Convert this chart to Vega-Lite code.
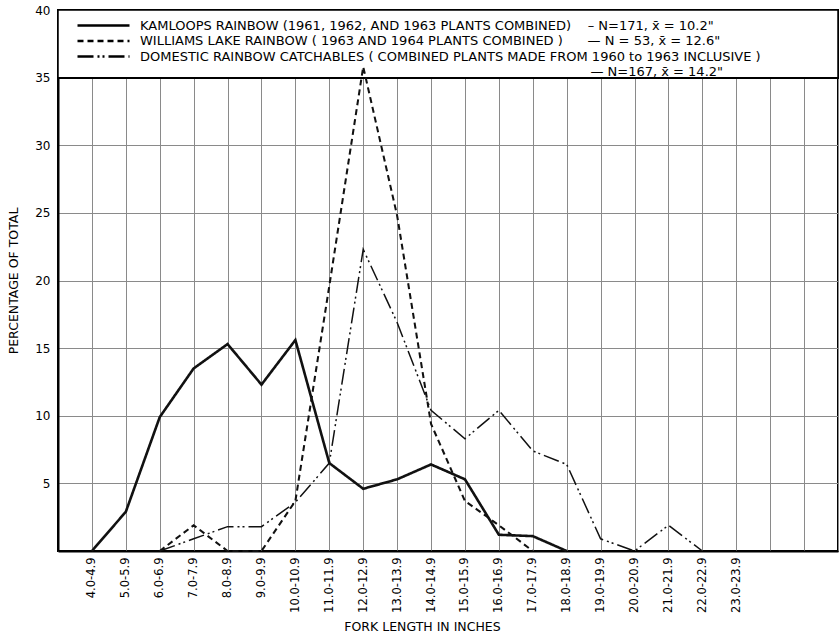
{
  "$schema": "https://vega.github.io/schema/vega-lite/v6.json",
  "width": 780,
  "height": 541,
  "autosize": {"type": "none"},
  "padding": {"left": 58, "top": 10, "right": 2, "bottom": 85},
  "background": "white",
  "config": {
    "view": {"stroke": "black", "strokeWidth": 2},
    "font": "DejaVu Sans",
    "axis": {"labelColor": "black", "titleColor": "black", "titleFontWeight": "normal", "domainColor": "black", "domainWidth": 2, "gridColor": "#8a8a8a", "gridWidth": 1, "ticks": false}
  },
  "data": {
    "values": [
      {"size": "4.0-4.9", "series": "KAMLOOPS", "pct": 0},
      {"size": "5.0-5.9", "series": "KAMLOOPS", "pct": 2.9},
      {"size": "6.0-6.9", "series": "KAMLOOPS", "pct": 9.9},
      {"size": "7.0-7.9", "series": "KAMLOOPS", "pct": 13.5},
      {"size": "8.0-8.9", "series": "KAMLOOPS", "pct": 15.3},
      {"size": "9.0-9.9", "series": "KAMLOOPS", "pct": 12.3},
      {"size": "10.0-10.9", "series": "KAMLOOPS", "pct": 15.6},
      {"size": "11.0-11.9", "series": "KAMLOOPS", "pct": 6.5},
      {"size": "12.0-12.9", "series": "KAMLOOPS", "pct": 4.6},
      {"size": "13.0-13.9", "series": "KAMLOOPS", "pct": 5.3},
      {"size": "14.0-14.9", "series": "KAMLOOPS", "pct": 6.4},
      {"size": "15.0-15.9", "series": "KAMLOOPS", "pct": 5.3},
      {"size": "16.0-16.9", "series": "KAMLOOPS", "pct": 1.2},
      {"size": "17.0-17.9", "series": "KAMLOOPS", "pct": 1.1},
      {"size": "18.0-18.9", "series": "KAMLOOPS", "pct": 0},
      {"size": "6.0-6.9", "series": "WILLIAMS", "pct": 0},
      {"size": "7.0-7.9", "series": "WILLIAMS", "pct": 1.9},
      {"size": "8.0-8.9", "series": "WILLIAMS", "pct": 0},
      {"size": "9.0-9.9", "series": "WILLIAMS", "pct": 0},
      {"size": "10.0-10.9", "series": "WILLIAMS", "pct": 3.7},
      {"size": "11.0-11.9", "series": "WILLIAMS", "pct": 19.6},
      {"size": "12.0-12.9", "series": "WILLIAMS", "pct": 35.8},
      {"size": "13.0-13.9", "series": "WILLIAMS", "pct": 24.8},
      {"size": "14.0-14.9", "series": "WILLIAMS", "pct": 9.4},
      {"size": "15.0-15.9", "series": "WILLIAMS", "pct": 3.7},
      {"size": "16.0-16.9", "series": "WILLIAMS", "pct": 1.9},
      {"size": "17.0-17.9", "series": "WILLIAMS", "pct": 0},
      {"size": "6.0-6.9", "series": "DOMESTIC", "pct": 0},
      {"size": "7.0-7.9", "series": "DOMESTIC", "pct": 0.9},
      {"size": "8.0-8.9", "series": "DOMESTIC", "pct": 1.8},
      {"size": "9.0-9.9", "series": "DOMESTIC", "pct": 1.8},
      {"size": "10.0-10.9", "series": "DOMESTIC", "pct": 3.6},
      {"size": "11.0-11.9", "series": "DOMESTIC", "pct": 6.5},
      {"size": "12.0-12.9", "series": "DOMESTIC", "pct": 22.3},
      {"size": "13.0-13.9", "series": "DOMESTIC", "pct": 16.9},
      {"size": "14.0-14.9", "series": "DOMESTIC", "pct": 10.4},
      {"size": "15.0-15.9", "series": "DOMESTIC", "pct": 8.3},
      {"size": "16.0-16.9", "series": "DOMESTIC", "pct": 10.4},
      {"size": "17.0-17.9", "series": "DOMESTIC", "pct": 7.4},
      {"size": "18.0-18.9", "series": "DOMESTIC", "pct": 6.4},
      {"size": "19.0-19.9", "series": "DOMESTIC", "pct": 0.9},
      {"size": "20.0-20.9", "series": "DOMESTIC", "pct": 0},
      {"size": "21.0-21.9", "series": "DOMESTIC", "pct": 1.9},
      {"size": "22.0-22.9", "series": "DOMESTIC", "pct": 0}
    ]
  },
  "layer": [
    {
      "mark": {"type": "rect", "fill": "white", "stroke": "black", "strokeWidth": 1.5},
      "encoding": {
        "y": {"datum": 35, "type": "quantitative", "title": "PERCENTAGE OF TOTAL"},
        "y2": {"datum": 40}
      }
    },
    {
      "mark": {"type": "line", "color": "#111"},
      "encoding": {
        "x": {
          "field": "size",
          "type": "nominal",
          "sort": null,
          "scale": {"type": "point", "padding": 0, "domain": ["", "4.0-4.9", "5.0-5.9", "6.0-6.9", "7.0-7.9", "8.0-8.9", "9.0-9.9", "10.0-10.9", "11.0-11.9", "12.0-12.9", "13.0-13.9", "14.0-14.9", "15.0-15.9", "16.0-16.9", "17.0-17.9", "18.0-18.9", "19.0-19.9", "20.0-20.9", "21.0-21.9", "22.0-22.9", "23.0-23.9", " ", "  ", "   "]},
          "axis": {"title": "FORK LENGTH IN INCHES", "labelAngle": -90, "labelFontSize": 11.5, "labelPadding": 6, "grid": true, "titleFontSize": 12.5, "titlePadding": 8, "titleX": 364}
        },
        "y": {
          "field": "pct",
          "type": "quantitative",
          "title": "PERCENTAGE OF TOTAL",
          "scale": {"domain": [0, 40], "nice": false},
          "axis": {"values": [0, 5, 10, 15, 20, 25, 30, 35, 40], "labelExpr": "datum.value == 0 ? '' : datum.label", "grid": true, "labelFontSize": 12, "labelPadding": 8, "titleFontSize": 12.5, "titlePadding": 14}
        },
        "strokeDash": {
          "field": "series",
          "type": "nominal",
          "scale": {"domain": ["KAMLOOPS", "WILLIAMS", "DOMESTIC", "DOMESTIC N"], "range": [[1, 0], [6, 4], [16, 4, 2, 3, 2, 4], [0, 1000]]},
          "legend": {
            "orient": "top-left",
            "offset": 0,
            "padding": 9,
            "title": null,
            "symbolType": "M1,0H14",
            "symbolSize": 64,
            "symbolStrokeColor": "black",
            "symbolStrokeWidth": 2.5,
            "labelFontSize": 13,
            "labelColor": "black",
            "labelLimit": 900,
            "labelOffset": 60,
            "rowPadding": 1.5,
            "labelExpr": "datum.label == 'KAMLOOPS' ? 'KAMLOOPS RAINBOW (1961, 1962, AND 1963 PLANTS COMBINED)\u00a0\u00a0\u00a0\u00a0–\u00a0N=171, x̄ = 10.2\"' : datum.label == 'WILLIAMS' ? 'WILLIAMS LAKE RAINBOW ( 1963 AND 1964 PLANTS COMBINED )\u00a0\u00a0\u00a0\u00a0\u00a0\u00a0—\u00a0N = 53, x̄ = 12.6\"' : datum.label == 'DOMESTIC' ? 'DOMESTIC RAINBOW CATCHABLES ( COMBINED PLANTS MADE FROM 1960 to 1963 INCLUSIVE )' : '\u200b' + pad('—\u00a0N=167, x̄ = 14.2\"', 128, '\u00a0', 'left')"
          }
        },
        "strokeWidth": {
          "field": "series",
          "type": "nominal",
          "scale": {"domain": ["KAMLOOPS", "WILLIAMS", "DOMESTIC"], "range": [2.6, 1.5, 2]},
          "legend": null
        },
        "order": {"value": null}
      }
    }
  ]
}
